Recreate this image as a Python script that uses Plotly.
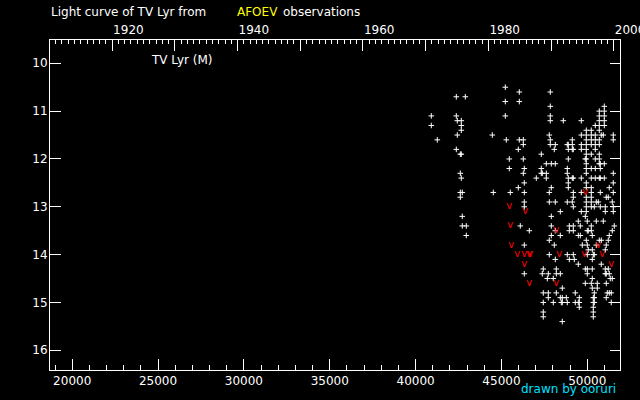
import plotly.graph_objects as go

# ---- data (JD-2400000, visual magnitude) ----
jd_obs = [
    40914, 40914,
    41263,
    42370, 42370, 42370,
    42428, 42428,
    42603, 42603, 42603, 42603,
    42661, 42661, 42661, 42661, 42661,
    42719, 42719, 42719,
    42894,
    42952, 42952,
    44467,
    44525,
    45224, 45224, 45224,
    45282,
    45457, 45457,
    45515,
    45981, 45981,
    46039, 46039, 46039,
    46097,
    46272, 46272, 46272, 46272,
    46330, 46330, 46330, 46330, 46330, 46330, 46330,
    46622,
    47029,
    47320, 47320, 47320,
    47378, 47378,
    47436, 47436, 47436, 47436, 47436,
    47612, 47612, 47612,
    47670,
    47728, 47728, 47728,
    47786, 47786, 47786, 47786, 47786,
    47844, 47844, 47844, 47844, 47844, 47844,
    47903, 47903, 47903, 47903, 47903,
    48019, 48019,
    48077, 48077,
    48136, 48136, 48136, 48136, 48136,
    48194, 48194, 48194,
    48427, 48427, 48427, 48427,
    48485,
    48543, 48543, 48543, 48543,
    48602,
    48776,
    48834, 48834, 48834, 48834, 48834, 48834,
    48893, 48893, 48893, 48893, 48893, 48893,
    48951, 48951, 48951,
    49126, 49126, 49126, 49126, 49126,
    49184, 49184, 49184, 49184, 49184, 49184, 49184, 49184,
    49242,
    49300, 49300,
    49475, 49475, 49475, 49475,
    49533, 49533, 49533,
    49592, 49592,
    49650, 49650, 49650, 49650, 49650, 49650, 49650,
    49708,
    49883, 49883, 49883, 49883,
    49941, 49941, 49941, 49941, 49941, 49941, 49941, 49941, 49941,
    49941, 49941, 49941, 49941, 49941, 49941, 49941, 49941,
    49999, 49999, 49999, 49999, 49999, 49999,
    50057, 50057,
    50232, 50232, 50232, 50232, 50232, 50232, 50232, 50232,
    50232, 50232, 50232, 50232, 50232, 50232, 50232,
    50290, 50290, 50290, 50290, 50290, 50290,
    50349, 50349, 50349, 50349, 50349, 50349,
    50407, 50407, 50407, 50407, 50407,
    50465, 50465, 50465, 50465, 50465, 50465, 50465, 50465,
    50523, 50523, 50523,
    50581, 50581,
    50640,
    50698, 50698, 50698, 50698, 50698, 50698, 50698, 50698, 50698, 50698, 50698, 50698,
    50756, 50756, 50756, 50756, 50756,
    50814, 50814, 50814,
    50930, 50930,
    50989, 50989, 50989, 50989, 50989, 50989, 50989,
    51047, 51047, 51047, 51047, 51047,
    51105, 51105, 51105, 51105, 51105,
    51163,
    51221, 51221, 51221,
    51279, 51279, 51279, 51279,
    51338,
    51396, 51396,
    51454, 51454, 51454,
    51512, 51512, 51512, 51512, 51512, 51512, 51512,
    51570,
]

mag_obs = [
    11.1, 11.3,
    11.6,
    10.7, 11.1, 11.8,
    11.2, 11.5,
    11.9, 12.3, 12.7, 12.8,
    11.2, 11.3, 11.4, 11.9, 12.4,
    12.7, 13.2, 13.4,
    10.7,
    13.4, 13.6,
    11.5,
    12.7,
    10.5, 10.8, 11.1,
    11.6,
    12.0, 12.2,
    12.7,
    11.8, 12.6,
    10.6, 10.8, 11.6,
    13.4,
    11.6, 11.7, 12.0, 12.3,
    12.2, 12.5, 12.7, 12.9, 13.0, 13.8, 14.4,
    13.5,
    12.4,
    11.9, 12.2, 12.3,
    12.3, 14.4,
    14.3, 14.8, 15.0, 15.2, 15.3,
    12.1, 12.3, 12.4,
    14.5,
    14.4, 14.8, 14.9,
    11.5, 12.7, 12.9, 13.7, 14.0,
    10.6, 10.9, 11.1, 11.2, 11.6, 11.7,
    12.1, 12.6, 13.2, 13.4, 13.6,
    14.5, 15.0,
    11.8, 13.8,
    11.7, 12.1, 12.9, 13.5, 14.1,
    14.3, 14.4, 14.8,
    13.1, 13.6, 14.4, 14.9,
    15.0,
    14.7, 14.9, 15.0, 15.4,
    11.2,
    14.9,
    11.7, 12.2, 12.3, 12.9, 14.0, 15.0,
    11.7, 11.8, 12.0, 12.4, 12.5, 12.6,
    13.4, 13.5, 14.1,
    11.6, 11.7, 11.8, 12.4, 12.9,
    11.8, 12.4, 12.7, 12.8, 13.0, 13.4, 13.5, 14.0,
    14.1,
    14.8, 15.0,
    13.3, 13.6, 14.2, 15.0,
    14.9, 15.0, 15.1,
    13.4, 13.6,
    11.2, 11.5, 11.7, 11.8, 12.4, 12.7, 13.1,
    13.8,
    12.0, 13.2, 14.3, 14.6,
    11.4, 11.5, 11.6, 11.7, 11.8, 11.9, 12.0, 12.1, 12.2,
    12.3, 12.5, 12.6, 12.8, 12.9, 13.0, 13.1, 13.7,
    13.3, 13.5, 13.8, 14.0, 14.3, 14.4,
    13.5, 13.9,
    11.4, 11.5, 11.6, 11.7, 11.9, 12.2, 12.4, 12.6,
    12.7, 12.8, 12.9, 13.0, 13.4, 13.5, 14.6,
    13.6, 13.9, 14.1, 14.3, 14.5, 14.7,
    14.0, 14.9, 15.0, 15.1, 15.2, 15.3,
    13.0, 14.0, 14.8, 14.9, 15.0,
    11.3, 11.5, 11.6, 11.7, 11.8, 12.0, 12.2, 12.4,
    12.9, 13.3, 13.8,
    14.6, 14.7,
    12.9,
    11.0, 11.1, 11.2, 11.3, 11.4, 11.6, 11.7, 11.9, 12.0, 12.1, 12.4, 13.7,
    12.1, 12.2, 12.4, 12.7, 13.0,
    11.5, 13.7, 14.2,
    11.5, 13.3,
    10.9, 11.0, 11.1, 11.2, 11.3, 12.1, 12.4,
    13.0, 13.1, 13.9, 14.3, 14.4,
    12.8, 13.8, 14.4, 14.6, 14.9,
    14.8,
    12.8, 13.7, 14.3,
    12.6, 13.6, 14.4, 14.8,
    14.5,
    14.8, 15.0,
    12.9, 13.5, 14.5,
    11.5, 11.6, 12.3, 12.5, 12.7, 13.0, 13.1,
    13.4,
]

# fainter-than observations (red "v")
jd_limit = [45457, 46388, 45515, 48194, 45573, 50640, 45923, 46330, 46622,
            46680, 48369, 49825, 50872, 46330, 51396, 46622, 48194, 49883]
mag_limit = [13.0, 13.1, 13.4, 13.5, 13.8, 13.8, 14.0, 14.0, 14.0,
             14.0, 14.0, 14.0, 14.0, 14.2, 14.2, 14.6, 14.6, 12.7]

jd_ticks = [20000, 25000, 30000, 35000, 40000, 45000, 50000]
jd_labels = ["20000", "25000", "30000", "35000", "40000", "45000", "50000"]
year_ticks = [1920, 1930, 1940, 1950, 1960, 1970, 1980, 1990, 2000]
year_labels = ["1920", "", "1940", "", "1960", "", "1980", "", "2000"]
mag_ticks = [10, 11, 12, 13, 14, 15, 16]

JD_RANGE = [18707, 51904]
MAG_RANGE = [16.412, 9.513]


def jd_to_year(j):
    return 2000.0 + (j - 51544.5) / 365.25


YEAR_RANGE = [jd_to_year(JD_RANGE[0]), jd_to_year(JD_RANGE[1])]

FONT = "DejaVu Sans"
W = "#ffffff"

fig = go.Figure()
fig.add_trace(go.Scatter(
    x=jd_obs, y=mag_obs, mode="markers",
    marker=dict(symbol="cross-thin", size=4, color=W,
                line=dict(width=1, color=W)),
    showlegend=False, hoverinfo="skip"))
fig.add_trace(go.Scatter(
    x=jd_limit, y=mag_limit, mode="text", text=["v"] * len(jd_limit),
    textposition="middle center",
    textfont=dict(family=FONT, size=10, color="#ff0000"),
    showlegend=False, hoverinfo="skip"))
fig.add_trace(go.Scatter(x=[], y=[], xaxis="x2", yaxis="y2",
                         showlegend=False, hoverinfo="skip"))

axis_common = dict(showgrid=False, zeroline=False, showline=True,
                   linecolor=W, linewidth=1, ticks="inside",
                   tickcolor=W, tickwidth=1, automargin=False,
                   tickfont=dict(family=FONT, size=12, color=W))

fig.update_layout(
    width=640, height=400, autosize=False,
    margin=dict(l=50, r=20, t=40, b=30, pad=0, autoexpand=False),
    paper_bgcolor="#000000", plot_bgcolor="#000000",
    font=dict(family=FONT, size=12, color=W),
    hovermode=False,
    xaxis=dict(range=JD_RANGE, tickmode="array", tickvals=jd_ticks,
               ticktext=jd_labels, ticklen=11,
               minor=dict(tickmode="linear", tick0=0, dtick=1000,
                          ticks="inside", ticklen=5, tickcolor=W),
               **axis_common),
    xaxis2=dict(range=YEAR_RANGE, overlaying="x", side="top", anchor="y",
                tickmode="array", tickvals=year_ticks, ticktext=year_labels,
                ticklen=11, ticklabelposition="outside right",
                ticklabeloverflow="allow",
                minor=dict(tickmode="linear", tick0=1900, dtick=1,
                           ticks="inside", ticklen=4, tickcolor=W),
                **axis_common),
    yaxis=dict(range=MAG_RANGE, tickmode="array", tickvals=mag_ticks,
               ticklen=11, ticklabelstandoff=-1, **axis_common),
    yaxis2=dict(range=MAG_RANGE, overlaying="y", side="right", anchor="x",
                tickmode="array", tickvals=mag_ticks, ticklen=10,
                showticklabels=False, **axis_common),
)

ann = dict(showarrow=False, xref="paper", yref="paper", borderpad=0,
           yanchor="middle")
fig.add_annotation(text="Light curve of TV Lyr from", x=0.0, y=1.085,
                   xanchor="left", font=dict(family=FONT, size=12, color=W), **ann)
fig.add_annotation(text="AFOEV", x=0.3263, y=1.085, xanchor="left",
                   font=dict(family=FONT, size=12, color="#ffff00"), **ann)
fig.add_annotation(text="observations", x=0.407, y=1.085, xanchor="left",
                   font=dict(family=FONT, size=12, color=W), **ann)
fig.add_annotation(text="TV Lyr (M)", x=0.1754, y=0.9394, xanchor="left",
                   font=dict(family=FONT, size=12, color=W), **ann)
fig.add_annotation(text="drawn by ooruri", x=0.9947, y=-0.0576,
                   xanchor="right",
                   font=dict(family=FONT, size=12, color="#00e0ff"), **ann)

# remove the browser's default 8px page margin so the figure sits at (0, 0)
fig.write_html("out.html",
               config={"displayModeBar": False, "responsive": False,
                       "staticPlot": True},
               post_script="document.body.style.margin='0';"
                           "document.body.style.overflow='hidden';")
